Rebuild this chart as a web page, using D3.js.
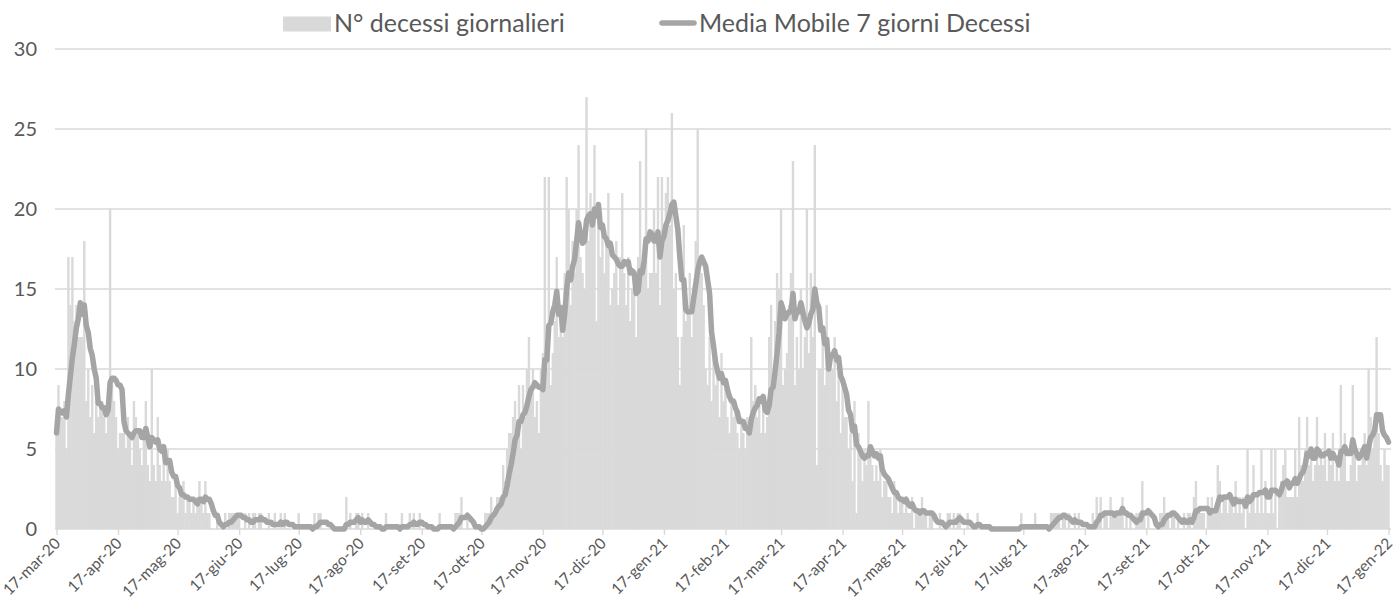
<!DOCTYPE html>
<html>
<head>
<meta charset="utf-8">
<script src="https://cdn.jsdelivr.net/npm/d3@7"></script>
<style>
  html, body { margin: 0; padding: 0; background: #fff; }
  svg { display: block; font-family: Lato, "Open Sans", sans-serif; }
</style>
</head>
<body>
<svg id="chart" width="1394" height="606"></svg>
<script>
// ---- DATA ----
const startDate = "2020-03-17";
const seriesNames = ["N\u00b0 decessi giornalieri", "Media Mobile 7 giorni Decessi"];
const yTicks = [0, 5, 10, 15, 20, 25, 30];
const monthNames = ["gen","feb","mar","apr","mag","giu","lug","ago","set","ott","nov","dic"];
const tickLabels = ["17-mar-20","17-apr-20","17-mag-20","17-giu-20","17-lug-20","17-ago-20","17-set-20","17-ott-20","17-nov-20","17-dic-20","17-gen-21","17-feb-21","17-mar-21","17-apr-21","17-mag-21","17-giu-21","17-lug-21","17-ago-21","17-set-21","17-ott-21","17-nov-21","17-dic-21","17-gen-22"];
// daily deaths, one row per week starting 17-mar-20
const dailyDeaths = [
  6, 9, 7, 7, 8, 5, 17,
  14, 17, 13, 14, 12, 12, 12,
  18, 8, 10, 7, 9, 6, 8,
  7, 8, 8, 7, 6, 8, 20,
  9, 8, 7, 5, 6, 6, 6,
  5, 7, 6, 4, 8, 7, 6,
  5, 4, 6, 8, 4, 3, 10,
  4, 3, 7, 4, 3, 5, 3,
  5, 3, 2, 2, 3, 1, 2,
  2, 3, 1, 2, 2, 1, 2,
  1, 2, 3, 2, 1, 3, 1,
  1, 0, 0, 0, 1, 0, 0,
  0, 1, 0, 1, 1, 1, 1,
  1, 1, 0, 0, 1, 0, 1,
  0, 1, 1, 0, 1, 1, 0,
  0, 0, 1, 0, 0, 1, 0,
  0, 1, 0, 1, 0, 0, 0,
  0, 0, 0, 1, 0, 0, 0,
  0, 0, 0, 0, 1, 0, 1,
  1, 0, 0, 0, 0, 0, 0,
  0, 0, 0, 0, 0, 0, 2,
  0, 1, 0, 0, 1, 1, 0,
  1, 0, 0, 1, 0, 0, 0,
  0, 0, 0, 0, 0, 1, 0,
  0, 0, 0, 0, 0, 0, 1,
  0, 0, 0, 1, 0, 1, 0,
  0, 1, 0, 0, 0, 0, 0,
  0, 0, 0, 0, 1, 0, 0,
  0, 0, 0, 0, 0, 1, 1,
  1, 2, 0, 0, 1, 0, 0,
  0, 0, 0, 0, 0, 0, 1,
  1, 1, 2, 1, 1, 2, 2,
  2, 4, 3, 5, 6, 6, 7,
  8, 6, 9, 5, 9, 7, 10,
  12, 9, 10, 7, 8, 6, 10,
  11, 22, 10, 22, 9, 11, 13,
  17, 12, 13, 12, 16, 22, 20,
  14, 18, 16, 20, 24, 17, 16,
  15, 27, 18, 21, 19, 24, 13,
  20, 17, 19, 16, 18, 21, 14,
  15, 16, 18, 14, 17, 21, 16,
  14, 17, 13, 15, 16, 12, 17,
  23, 16, 18, 25, 15, 16, 16,
  20, 16, 22, 14, 22, 18, 21,
  22, 19, 26, 15, 16, 12, 9,
  12, 19, 13, 14, 16, 12, 15,
  18, 25, 17, 16, 14, 10, 9,
  12, 8, 11, 9, 10, 7, 11,
  8, 9, 7, 6, 8, 7, 8,
  6, 5, 7, 6, 5, 7, 6,
  12, 8, 9, 7, 8, 6, 8,
  6, 7, 12, 14, 9, 13, 16,
  15, 20, 9, 10, 11, 14, 16,
  23, 9, 12, 10, 15, 10, 12,
  20, 11, 16, 12, 24, 4, 10,
  10, 12, 9, 14, 11, 10, 10,
  12, 8, 10, 6, 9, 7, 7,
  5, 6, 3, 8, 1, 6, 5,
  3, 5, 4, 8, 5, 4, 3,
  4, 3, 5, 2, 3, 3, 2,
  2, 1, 3, 2, 1, 2, 2,
  1, 2, 1, 1, 2, 0, 1,
  1, 1, 2, 1, 1, 0, 1,
  1, 0, 0, 0, 1, 0, 0,
  0, 1, 1, 0, 1, 0, 1,
  1, 0, 0, 0, 1, 0, 0,
  0, 0, 1, 0, 0, 0, 0,
  0, 0, 0, 0, 0, 0, 0,
  0, 0, 0, 0, 0, 0, 0,
  0, 0, 0, 1, 0, 0, 0,
  0, 0, 0, 1, 0, 0, 0,
  0, 0, 0, 0, 1, 1, 1,
  1, 1, 0, 1, 1, 0, 1,
  0, 0, 1, 0, 1, 0, 0,
  0, 0, 0, 0, 1, 0, 2,
  1, 2, 0, 1, 1, 0, 2,
  1, 1, 1, 1, 1, 2, 0,
  1, 0, 1, 0, 0, 1, 1,
  1, 3, 1, 0, 1, 0, 0,
  0, 0, 0, 1, 1, 2, 1,
  1, 0, 1, 1, 0, 1, 0,
  0, 1, 0, 1, 1, 0, 2,
  3, 1, 1, 1, 1, 0, 2,
  1, 2, 1, 1, 4, 3, 1,
  2, 2, 1, 2, 2, 1, 3,
  1, 2, 1, 2, 0, 5, 1,
  2, 4, 1, 2, 1, 5, 1,
  3, 1, 1, 5, 1, 5, 0,
  2, 3, 4, 5, 2, 2, 2,
  2, 5, 2, 7, 4, 3, 5,
  7, 4, 5, 3, 4, 7, 4,
  5, 4, 6, 3, 5, 4, 6,
  3, 4, 3, 9, 5, 6, 3,
  3, 4, 9, 5, 3, 4, 4,
  5, 6, 4, 10, 7, 5, 6,
  12, 6, 4, 3, 5, 4, 4
];

// ---- BUILD ----
const DAY = 86400000;
const t0 = new Date(startDate + "T00:00:00Z").getTime();
const data = dailyDeaths.map((v, i) => {
  const lo = Math.max(0, i - 6);
  const win = dailyDeaths.slice(lo, i + 1);
  return { date: new Date(t0 + i * DAY), value: v, ma: d3.mean(win) };
});

const svg = d3.select("#chart");
const x = d3.scaleUtc()
  .domain([new Date(Date.UTC(2020, 2, 17)), new Date(Date.UTC(2022, 0, 17))])
  .range([56.5, 1388.5]);
const y = d3.scaleLinear().domain([0, 30]).range([529, 49]);

const gridColor = "#d9d9d9";
const textColor = "#595959";

// gridlines
svg.append("g").selectAll("line").data(yTicks.filter(d => d > 0)).join("line")
  .attr("x1", 55).attr("x2", 1391)
  .attr("y1", d => y(d)).attr("y2", d => y(d))
  .attr("stroke", gridColor).attr("stroke-width", 1.4);

// y labels
svg.append("g").selectAll("text").data(yTicks).join("text")
  .attr("x", 37).attr("y", d => y(d)).attr("dy", "0.36em")
  .attr("text-anchor", "end").attr("fill", textColor)
  .attr("font-size", "20px").text(d => d);

// bars
const step = x(new Date(t0 + DAY)) - x(new Date(t0));
svg.append("g").selectAll("rect").data(data).join("rect")
  .attr("x", d => x(d.date) - step / 2 - 0.2)
  .attr("width", step + 0.4)
  .attr("y", d => y(d.value))
  .attr("height", d => y(0) - y(d.value))
  .attr("fill", "#d9d9d9");

// x axis line
svg.append("line").attr("x1", 55).attr("x2", 1391)
  .attr("y1", y(0)).attr("y2", y(0))
  .attr("stroke", gridColor).attr("stroke-width", 1.4);

// monthly ticks
const tickDates = tickLabels.map(s => {
  const p = s.split("-");
  return new Date(Date.UTC(2000 + +p[2], monthNames.indexOf(p[1]), +p[0]));
});
const xAxis = d3.axisBottom(x).tickValues(tickDates).tickSize(6)
  .tickFormat((d, i) => tickLabels[i]);
const gx = svg.append("g").attr("transform", `translate(0,${y(0)})`).call(xAxis);
gx.select(".domain").remove();
gx.selectAll(".tick line").attr("stroke", gridColor).attr("stroke-width", 1.4);
gx.selectAll(".tick text")
  .attr("fill", textColor)
  .attr("font-size", "15.5px")
  .attr("font-family", "Lato, 'Open Sans', sans-serif")
  .attr("text-anchor", "end")
  .attr("transform", "translate(1,12) rotate(-45)")
  .attr("x", 0).attr("y", 0).attr("dy", "0.3em");

// moving average line
const line = d3.line().x(d => x(d.date)).y(d => y(d.ma)).curve(d3.curveLinear);
svg.append("path").datum(data)
  .attr("d", line)
  .attr("fill", "none")
  .attr("stroke", "#a5a5a5")
  .attr("stroke-width", 5.5)
  .attr("stroke-linejoin", "round")
  .attr("stroke-linecap", "round");

// legend
const lg = svg.append("g");
lg.append("rect").attr("x", 283).attr("y", 16.5).attr("width", 48).attr("height", 15).attr("fill", "#d9d9d9");
lg.append("text").attr("x", 334).attr("y", 31.5).attr("fill", textColor)
  .attr("font-size", "25px").text(seriesNames[0]);
lg.append("line").attr("x1", 662).attr("x2", 694).attr("y1", 23).attr("y2", 23)
  .attr("stroke", "#a5a5a5").attr("stroke-width", 5.5).attr("stroke-linecap", "round");
lg.append("text").attr("x", 699).attr("y", 31.5).attr("fill", textColor)
  .attr("font-size", "25px").text(seriesNames[1]);
</script>
</body>
</html>
